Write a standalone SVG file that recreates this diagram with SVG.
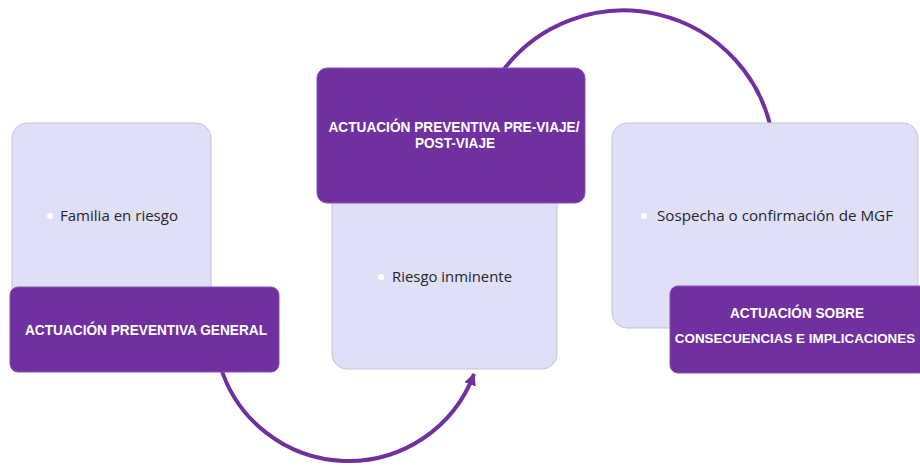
<svg xmlns="http://www.w3.org/2000/svg" width="920" height="469" viewBox="0 0 920 469">
<defs>
<style>
.light{fill:#DFDFF8;stroke:#C4C4D4;stroke-width:1}
.dark{fill:#7030A0;stroke:#8A52B4;stroke-width:1}
.arc{fill:none;stroke:#7030A0;stroke-width:4}
.body{font-family:"Open Sans","Liberation Sans",sans-serif;font-size:14px;fill:#262626}
.title{font-family:"Liberation Sans",Arial,sans-serif;font-weight:bold;font-size:15px;fill:#FFFFFF;text-anchor:middle}
.dot{fill:#FFFFFF}
</style>
<marker id="ah" markerUnits="userSpaceOnUse" markerWidth="14" markerHeight="14" refX="11" refY="6" orient="auto">
<path d="M0,0 L12,6 L0,12 Z" fill="#7030A0"/>
</marker>
</defs>
<rect width="920" height="469" fill="#FFFFFF"/>
<g id="connectors">
<path class="arc" d="M 499 76 A 151 151 0 0 1 773 140"/>
<path class="arc" d="M 220 365 A 134 134 0 0 0 474 374" marker-end="url(#ah)"/>
</g>
<g id="node1">
<rect class="light" x="12" y="123" width="199" height="200" rx="15"/>
<circle class="dot" cx="50" cy="216" r="3"/>
<text class="body" x="60" y="221" textLength="118" lengthAdjust="spacingAndGlyphs">Familia en riesgo</text>
<rect class="dark" x="10" y="287" width="269" height="85" rx="8"/>
<text class="title" x="146" y="335" textLength="242" lengthAdjust="spacingAndGlyphs">ACTUACIÓN PREVENTIVA GENERAL</text>
</g>
<g id="node2">
<rect class="light" x="332" y="180" width="225" height="189" rx="15"/>
<circle class="dot" cx="381" cy="277" r="3"/>
<text class="body" x="392" y="282" textLength="120" lengthAdjust="spacingAndGlyphs">Riesgo inminente</text>
<rect class="dark" x="317" y="68" width="268" height="135" rx="10"/>
<text class="title" x="454" y="132" textLength="251" lengthAdjust="spacingAndGlyphs">ACTUACIÓN PREVENTIVA PRE-VIAJE/</text>
<text class="title" x="455" y="148" textLength="80" lengthAdjust="spacingAndGlyphs">POST-VIAJE</text>
</g>
<g id="node3">
<rect class="light" x="612" y="123" width="306" height="205" rx="15"/>
<circle class="dot" cx="644" cy="216" r="3"/>
<text class="body" x="657" y="221" textLength="236" lengthAdjust="spacingAndGlyphs">Sospecha o confirmación de MGF</text>
<rect class="dark" x="670" y="286" width="262" height="87" rx="8"/>
<text class="title" x="797" y="318" textLength="134" lengthAdjust="spacingAndGlyphs">ACTUACIÓN SOBRE</text>
<text class="title" x="795" y="343" style="font-size:13.4px">CONSECUENCIAS E IMPLICACIONES</text>
</g>
</svg>
